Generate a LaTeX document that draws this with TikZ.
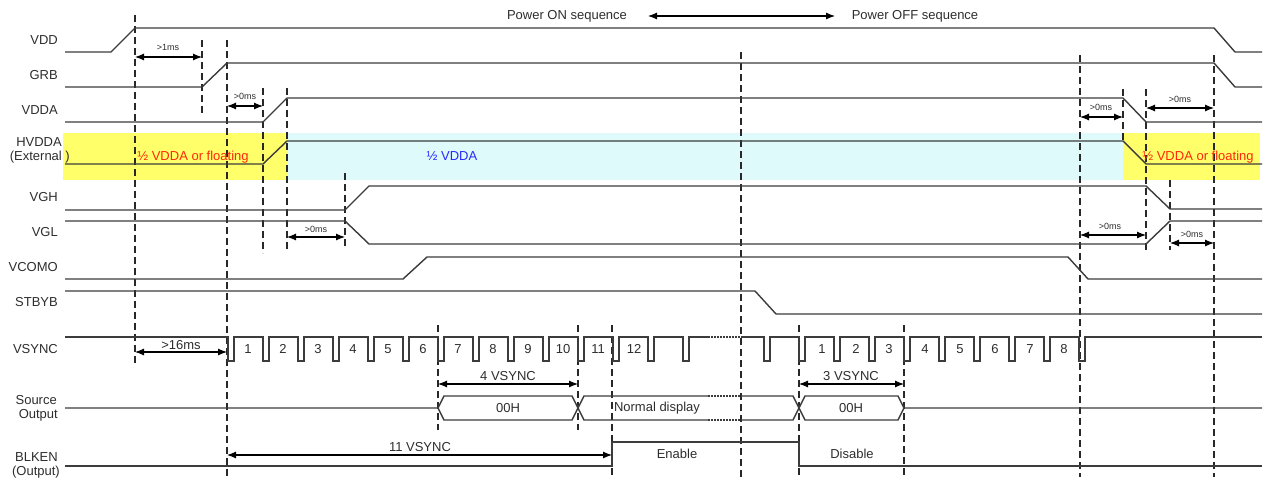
\documentclass[tikz,border=0pt]{standalone}
\usepackage{fontspec}
\setmainfont{Liberation Sans}
\usetikzlibrary{arrows.meta}
\definecolor{sig}{RGB}{60,60,60}
\definecolor{dsh}{RGB}{40,40,40}
\definecolor{txt}{RGB}{45,45,45}
\definecolor{hiY}{RGB}{255,255,105}
\definecolor{hiC}{RGB}{222,250,250}
\definecolor{redT}{RGB}{255,40,10}
\definecolor{bluT}{RGB}{40,40,255}
\begin{document}
\begin{tikzpicture}[x=1pt,y=-1pt,
  sigline/.style={draw=sig,line width=1.4pt,line join=miter},
  dotline/.style={draw=sig,line width=1.4pt,dash pattern=on 1.5pt off 1.5pt},
  guide/.style={draw=dsh,line width=1.2pt,dash pattern=on 7pt off 4pt},
  dim/.style={draw=black,line width=1.1pt,{Latex[length=9pt,width=7pt]}-{Latex[length=9pt,width=7pt]}},
  lbl/.style={text=txt,font=\fontsize{13}{15}\selectfont,inner sep=0pt,anchor=east},
  big/.style={text=txt,font=\fontsize{13}{15}\selectfont,inner sep=0pt},
  small/.style={text=txt,font=\fontsize{9}{10}\selectfont,inner sep=0pt},
]
\useasboundingbox (0,0) rectangle (1271,482);
% highlighted bands
\fill[hiY] (63,133) rectangle (287,180);
\fill[hiC] (287,133) rectangle (1123,180);
\fill[hiY] (1123,133) rectangle (1260,180);

% guides
\foreach \gx/\ga/\gb in {135/15/363, 202/40/116, 227/40/477, 263/88/253, 287/88/252,
  345/173/247, 741/52/477, 1080/55/477, 1123/89/141, 1146/89/250, 1170/180/250,
  1214/55/477, 438/325/430, 578/325/430, 612/325/477, 799/325/477, 904/325/477}
  \draw[guide] (\gx,\ga) -- (\gx,\gb);

% signals
\draw[sigline] (65,52) -- (111,52) -- (135,28) -- (1214,28) -- (1235,52) -- (1262,52);
\draw[sigline] (65,87) -- (202,87) -- (227,63) -- (1214,63) -- (1235,87) -- (1262,87);
\draw[sigline] (65,122) -- (263,122) -- (287,98) -- (1123,98) -- (1146,122) -- (1262,122);
\draw[sigline] (65,164) -- (263,164) -- (287,141) -- (1123,141) -- (1146,164) -- (1262,164);
\draw[sigline] (65,210) -- (345,210) -- (369,186) -- (1146,186) -- (1170,209) -- (1262,209);
\draw[sigline] (65,221) -- (345,221) -- (369,244) -- (1146,244) -- (1170,221) -- (1262,221);
\draw[sigline] (65,279) -- (403,279) -- (427,257) -- (1068,257) -- (1088,279) -- (1262,279);
\draw[sigline] (65,291) -- (755,291) -- (776,314) -- (1262,314);
% VSYNC
\draw[sigline] (65,337)
  \foreach \p in {228,263,298,333,368,403,438,473,508,543,578,613,648,683}
  { -- (\p,337) -- (\p,361) -- (\p+6,361) -- (\p+6,337) } -- (708,337);
\draw[dotline] (708,337) -- (741,337);
\draw[sigline] (741,337)
  \foreach \p in {764,799,834,869,904,939,974,1009,1044,1079}
  { -- (\p,337) -- (\p,361) -- (\p+6,361) -- (\p+6,337) } -- (1262,337);
% Source output bus
\draw[sigline] (65,408) -- (438,408) -- (444,396) -- (572,396) -- (584,420) -- (708,420);
\draw[sigline] (438,408) -- (444,420) -- (572,420) -- (584,396) -- (708,396);
\draw[dotline] (708,396) -- (741,396) (708,420) -- (741,420);
\draw[sigline] (741,420) -- (793,420) -- (805,396) -- (898,396) -- (904,408) -- (1262,408);
\draw[sigline] (741,396) -- (793,396) -- (805,420) -- (898,420) -- (904,408);
% BLKEN
\draw[sigline] (65,466) -- (612,466) -- (612,442) -- (799,442) -- (799,466) -- (1262,466);

% dimension arrows
\draw[dim] (648,16) -- (835,16);
\draw[dim] (135,57) -- (202,57);
\draw[dim] (227,106) -- (263,106);
\draw[dim] (287,237) -- (345,237);
\draw[dim] (1080,117) -- (1123,117);
\draw[dim] (1146,108) -- (1214,108);
\draw[dim] (1080,235) -- (1146,235);
\draw[dim] (1170,243) -- (1214,243);
\draw[dim] (135,352) -- (227,352);
\draw[dim] (438,384) -- (578,384);
\draw[dim] (799,384) -- (904,384);
\draw[dim] (227,455) -- (612,455);

% dimension texts
\node[big] (pon) at (567,16) {Power ON sequence};
\node[big] (poff) at (915,16) {Power OFF sequence};
\node[small] (t1) at (168,47) {>1ms};
\node[small] (t2) at (245,96) {>0ms};
\node[small] (t3) at (316,229) {>0ms};
\node[small] (t4) at (1101,107) {>0ms};
\node[small] (t5) at (1180,99) {>0ms};
\node[small] (t6) at (1110,226) {>0ms};
\node[small] (t7) at (1192,234) {>0ms};
\node[big] (t16) at (181,345) {>16ms};
\node[big] (v4) at (508,376) {4 VSYNC};
\node[big] (v3) at (851,376) {3 VSYNC};
\node[big] (v11) at (420,447) {11 VSYNC};

% inner texts
\node[big,text=redT] (hl) at (193,157) {½ VDDA or floating};
\node[big,text=redT] (hr) at (1198,157) {½ VDDA or floating};
\node[big,text=bluT] (hm) at (452,156) {½ VDDA};
\node[big] (h1) at (508,408) {00H};
\node[big] (h2) at (851,408) {00H};
\node[big] (nd) at (657,408) {Normal display};
\node[big] (en) at (677,454) {Enable};
\node[big] (dis) at (852,454) {Disable};
\foreach \n/\xx in {1/248,2/283,3/318,4/353,5/388,6/423,7/458,8/493,9/528,10/563,11/598,12/634}
  \node[big] (na\n) at (\xx,349) {\n};
\foreach \n/\xx in {1/822,2/856,3/889,4/925,5/960,6/995,7/1030,8/1064}
  \node[big] (nb\n) at (\xx,349) {\n};

% signal labels
\node[lbl] (lvdd) at (58,40) {VDD};
\node[lbl] (lgrb) at (58,75) {GRB};
\node[lbl] (lvdda) at (58,110) {VDDA};
\node[lbl] (lhv) at (62,142) {HVDDA};
\node[lbl] (lext) at (70,157) {(External )};
\node[lbl] (lvgh) at (58,197) {VGH};
\node[lbl] (lvgl) at (58,232) {VGL};
\node[lbl] (lvc) at (58,267) {VCOMO};
\node[lbl] (lst) at (58,302) {STBYB};
\node[lbl] (lvs) at (58,349) {VSYNC};
\node[lbl] (lsrc) at (57,400) {Source};
\node[lbl] (lout) at (58,415) {Output};
\node[lbl] (lblk) at (58,457) {BLKEN};
\node[lbl] (lbo) at (60,472) {(Output)};
\end{tikzpicture}
\end{document}
